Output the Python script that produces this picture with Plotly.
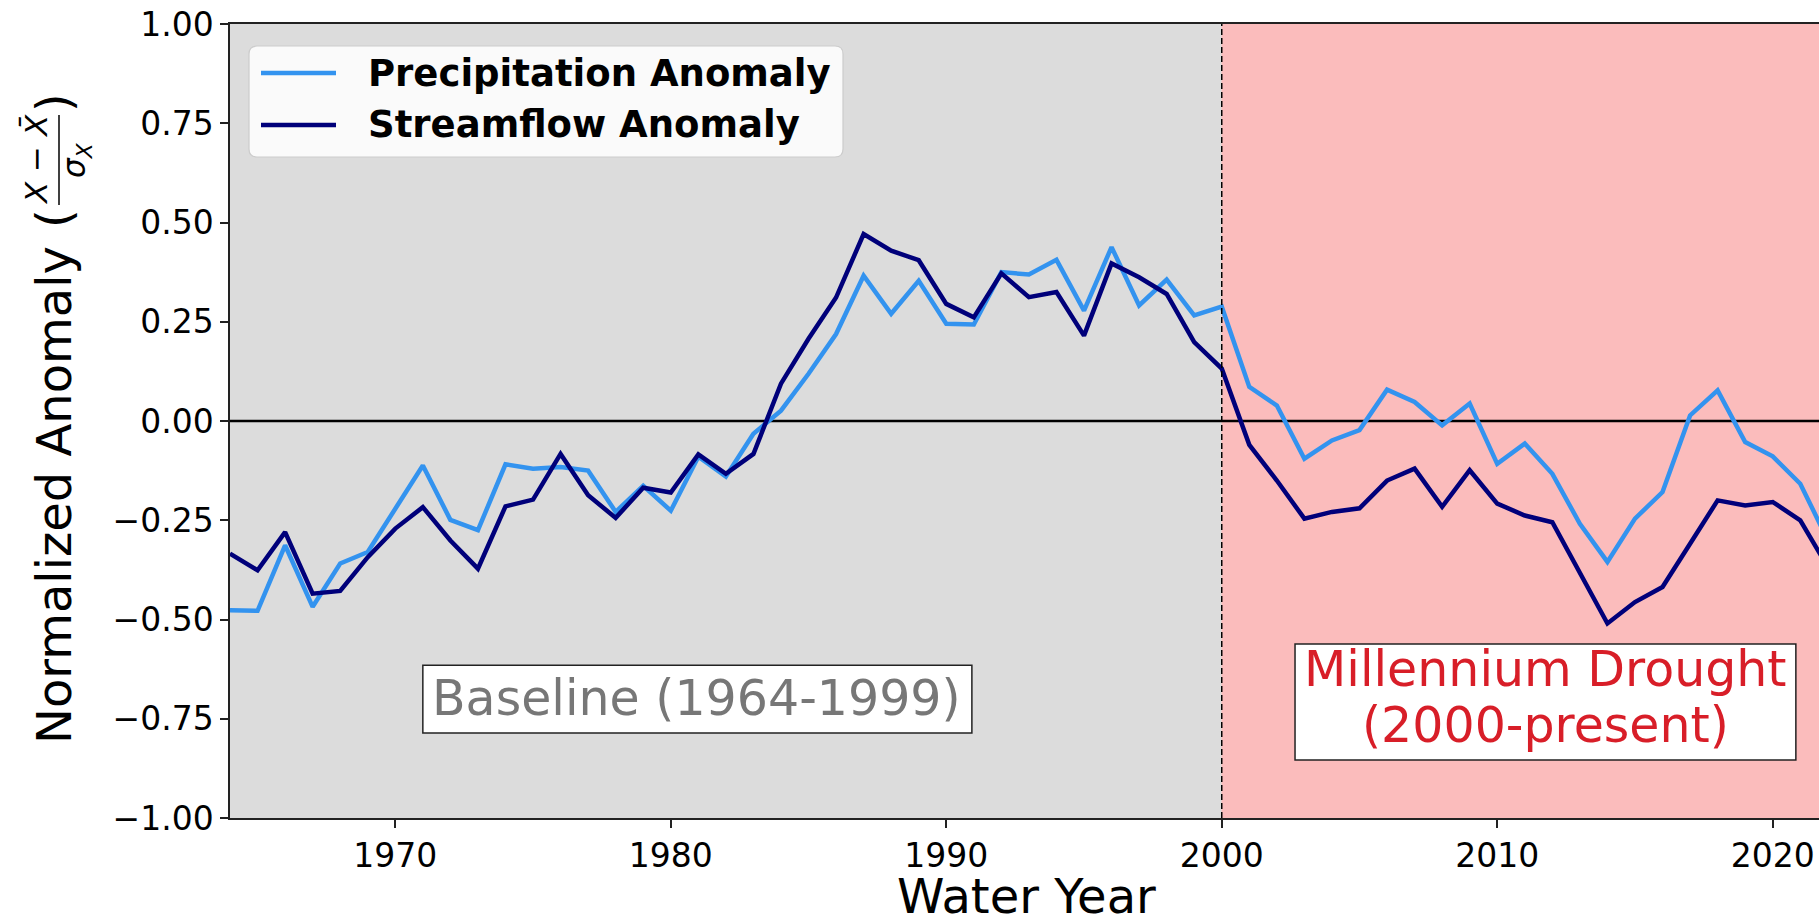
import plotly.graph_objects as go

# ---------------- data ----------------
years = list(range(1964, 2023))

precip_anomaly = [
    -0.477, -0.478, -0.313, -0.468, -0.359, -0.330, -0.221, -0.112, -0.249, -0.275,
    -0.109, -0.120, -0.116, -0.125, -0.229, -0.163, -0.226, -0.090, -0.140, -0.032,
    0.026, 0.119, 0.219, 0.366, 0.270, 0.353, 0.245, 0.243, 0.375, 0.369,
    0.406, 0.278, 0.438, 0.291, 0.356, 0.266, 0.288, 0.086, 0.039, -0.095,
    -0.049, -0.023, 0.079, 0.048, -0.011, 0.044, -0.108, -0.057, -0.133, -0.259,
    -0.355, -0.246, -0.179, 0.014, 0.077, -0.053, -0.089, -0.158, -0.300,
]

streamflow_anomaly = [
    -0.334, -0.376, -0.280, -0.435, -0.428, -0.343, -0.271, -0.217, -0.301, -0.372,
    -0.215, -0.198, -0.083, -0.187, -0.244, -0.168, -0.180, -0.084, -0.133, -0.083,
    0.094, 0.207, 0.311, 0.471, 0.429, 0.405, 0.295, 0.261, 0.372, 0.312,
    0.325, 0.215, 0.397, 0.362, 0.320, 0.199, 0.132, -0.060, -0.150, -0.246,
    -0.229, -0.220, -0.150, -0.120, -0.216, -0.124, -0.208, -0.238, -0.255, -0.383,
    -0.510, -0.456, -0.418, -0.309, -0.200, -0.213, -0.204, -0.250, -0.368,
]

series_names = ["Precipitation Anomaly", "Streamflow Anomaly"]
x_tick_vals = [1970, 1980, 1990, 2000, 2010, 2020]
x_tick_text = ["1970", "1980", "1990", "2000", "2010", "2020"]
y_tick_vals = [1.0, 0.75, 0.5, 0.25, 0.0, -0.25, -0.5, -0.75, -1.0]
y_tick_text = ["1.00", "0.75", "0.50", "0.25", "0.00", "\u22120.25", "\u22120.50", "\u22120.75", "\u22121.00"]

baseline_start, drought_start = 1964, 2000
x_range = [1964, 2021.68]
y_range = [-1.0, 1.0]

# ---------------- styling ----------------
W, H = 1819, 920
ML, MR, MT, MB = 230, 0, 24, 102
PW, PH = W - ML - MR, H - MT - MB
FONT = "DejaVu Sans, Verdana, sans-serif"
C_PRECIP = "#3393ef"
C_STREAM = "#00007a"
C_GREY_BG = "#dcdcdc"
C_PINK_BG = "#fbbcbc"


def px(xp):
    return (xp - ML) / PW


def py(yp):
    return (MT + PH - yp) / PH


fig = go.Figure()
fig.add_trace(go.Scatter(x=years, y=precip_anomaly, mode="lines", name=series_names[0],
                         line=dict(color=C_PRECIP, width=4.5), showlegend=False))
fig.add_trace(go.Scatter(x=years, y=streamflow_anomaly, mode="lines", name=series_names[1],
                         line=dict(color=C_STREAM, width=4.5), showlegend=False))

shapes = [
    dict(type="rect", xref="x", yref="paper", x0=baseline_start, x1=drought_start, y0=0, y1=1,
         fillcolor=C_GREY_BG, line=dict(width=0), layer="below"),
    dict(type="rect", xref="x", yref="paper", x0=drought_start, x1=2100, y0=0, y1=1,
         fillcolor=C_PINK_BG, line=dict(width=0), layer="below"),
    dict(type="line", xref="paper", yref="y", x0=0, x1=1, y0=0, y1=0,
         line=dict(color="black", width=2.5), layer="below"),
    dict(type="line", xref="x", yref="paper", x0=drought_start, x1=drought_start, y0=0, y1=1,
         line=dict(color="black", width=1.5, dash="6px,3px"), layer="above"),
    # Baseline box
    dict(type="rect", xref="x", yref="y", x0=1971.0, x1=1990.93, y0=-0.786, y1=-0.615,
         fillcolor="white", line=dict(color="#222222", width=1.5), layer="above"),
    # Millennium drought box
    dict(type="rect", xref="x", yref="y", x0=2002.66, x1=2020.84, y0=-0.854, y1=-0.562,
         fillcolor="white", line=dict(color="#222222", width=1.5), layer="above"),
]


# legend box with rounded corners (paper coords)
def rounded_rect(x0, y0, x1, y1, r):
    rx = r / PW
    ry = r / PH
    a, b, c, d = px(x0), px(x1), py(y0), py(y1)  # c top, d bottom (paper)
    return (f"M {a+rx},{c} L {b-rx},{c} Q {b},{c} {b},{c-ry} "
            f"L {b},{d+ry} Q {b},{d} {b-rx},{d} L {a+rx},{d} Q {a},{d} {a},{d+ry} "
            f"L {a},{c-ry} Q {a},{c} {a+rx},{c} Z")


shapes.append(dict(type="path", xref="paper", yref="paper", path=rounded_rect(249, 46, 843, 157, 8),
                   fillcolor="rgba(255,255,255,0.85)", line=dict(color="#cccccc", width=1.2),
                   layer="above"))
legend_rows = [(73, C_PRECIP, series_names[0]), (125, C_STREAM, series_names[1])]
annotations = []
for yy, col, name in legend_rows:
    shapes.append(dict(type="line", xref="paper", yref="paper", x0=px(261), x1=px(336),
                       y0=py(yy), y1=py(yy), line=dict(color=col, width=4.5), layer="above"))
    annotations.append(dict(xref="paper", yref="paper", x=px(366), y=py(yy), xanchor="left",
                            yanchor="middle", text=f"<b>{name}</b>", showarrow=False,
                            font=dict(family=FONT, size=37, color="black")))

# region labels
annotations.append(dict(xref="x", yref="y", x=1980.95, y=-0.70, text="Baseline (1964-1999)",
                        showarrow=False, xanchor="center", yanchor="middle",
                        font=dict(family=FONT, size=49, color="#777777")))
annotations.append(dict(xref="x", yref="y", x=2011.75, y=-0.625, text="Millennium Drought",
                        showarrow=False, xanchor="center", yanchor="middle",
                        font=dict(family=FONT, size=49, color="#d81e28")))
annotations.append(dict(xref="x", yref="y", x=2011.75, y=-0.766, text="(2000-present)",
                        showarrow=False, xanchor="center", yanchor="middle",
                        font=dict(family=FONT, size=49, color="#d81e28")))

# axis titles
annotations.append(dict(xref="paper", yref="paper", x=px(1026), y=py(896), text="Water Year",
                        showarrow=False, xanchor="center", yanchor="middle",
                        font=dict(family=FONT, size=48, color="black")))
annotations.append(dict(xref="paper", yref="paper", x=px(54), y=py(495), text="Normalized Anomaly",
                        showarrow=False, xanchor="center", yanchor="middle", textangle=-90,
                        font=dict(family=FONT, size=48, color="black")))
annotations.append(dict(xref="paper", yref="paper", x=px(54), y=py(219), text="(",
                        showarrow=False, xanchor="center", yanchor="middle", textangle=-90,
                        font=dict(family=FONT, size=48, color="black")))
annotations.append(dict(xref="paper", yref="paper", x=px(36), y=py(160), text="<i>X</i> \u2212 <i>X\u0304</i>",
                        showarrow=False, xanchor="center", yanchor="middle", textangle=-90,
                        font=dict(family=FONT, size=31, color="black")))
annotations.append(dict(xref="paper", yref="paper", x=px(76), y=py(160), text="<i>\u03c3<sub>X</sub></i>",
                        showarrow=False, xanchor="center", yanchor="middle", textangle=-90,
                        font=dict(family=FONT, size=31, color="black")))
annotations.append(dict(xref="paper", yref="paper", x=px(54), y=py(103), text=")",
                        showarrow=False, xanchor="center", yanchor="middle", textangle=-90,
                        font=dict(family=FONT, size=48, color="black")))
shapes.append(dict(type="line", xref="paper", yref="paper", x0=px(59), x1=px(59), y0=py(115), y1=py(205),
                   line=dict(color="black", width=1.5), layer="above"))

fig.update_layout(
    width=W, height=H,
    margin=dict(l=ML, r=MR, t=MT, b=MB, pad=0),
    paper_bgcolor="white", plot_bgcolor=C_PINK_BG,
    shapes=shapes, annotations=annotations,
    showlegend=False,
    font=dict(family=FONT, size=33, color="black"),
    xaxis=dict(range=x_range, tickvals=x_tick_vals, ticktext=x_tick_text, showgrid=False,
               zeroline=False, showline=True, linecolor="#222222", linewidth=1.5, mirror=True,
               ticks="outside", ticklen=8, tickwidth=1.5, tickcolor="#222222",
               tickfont=dict(family=FONT, size=33, color="black")),
    yaxis=dict(range=y_range, tickvals=y_tick_vals, ticktext=y_tick_text, showgrid=False,
               zeroline=False, showline=True, linecolor="#222222", linewidth=1.5, mirror=False,
               ticks="outside", ticklen=8, tickwidth=1.5, tickcolor="#222222",
               tickfont=dict(family=FONT, size=33, color="black")),
)

fig.write_html("out.html")
